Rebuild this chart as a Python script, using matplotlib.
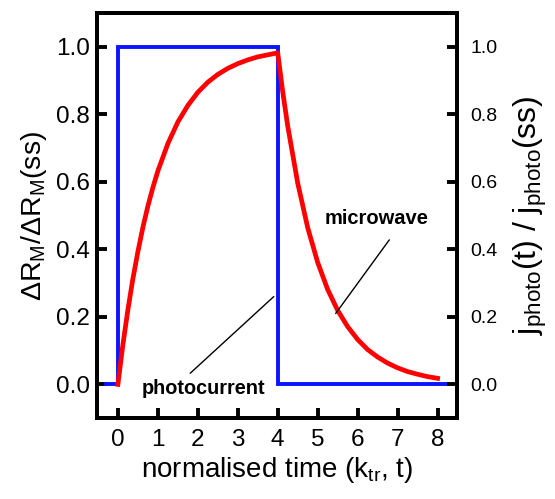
import matplotlib
matplotlib.use('Agg')
import matplotlib.pyplot as plt

# red curve: microwave signal
mw_t = [0, 0.125, 0.25, 0.375, 0.5, 0.625, 0.75, 0.875, 1.0, 1.25, 1.5,
        1.75, 2.0, 2.25, 2.5, 2.75, 3.0, 3.25, 3.5, 3.75, 4.0,
        4.125, 4.25, 4.5, 4.75, 5.0, 5.25, 5.5, 5.75, 6.0, 6.25, 6.5,
        6.75, 7.0, 7.25, 7.5, 7.75, 8.0]
mw_val = [0.0, 0.118, 0.221, 0.313, 0.393, 0.465, 0.528, 0.583, 0.632,
          0.713, 0.777, 0.826, 0.865, 0.895, 0.918, 0.936, 0.950, 0.961,
          0.970, 0.976, 0.982,
          0.866, 0.765, 0.596, 0.464, 0.361, 0.281, 0.219, 0.171, 0.133,
          0.103, 0.081, 0.063, 0.049, 0.038, 0.030, 0.023, 0.018]

# blue square pulse: photocurrent
pc_t = [-0.3, 0.0, 0.0, 4.0, 4.0, 8.22]
pc_val = [0.0, 0.0, 1.0, 1.0, 0.0, 0.0]

x_ticks = [0, 1, 2, 3, 4, 5, 6, 7, 8]
y_ticks = [0.0, 0.2, 0.4, 0.6, 0.8, 1.0]
y_ticklabels = ['0.0', '0.2', '0.4', '0.6', '0.8', '1.0']

plt.rcParams['font.family'] = ['Liberation Sans', 'DejaVu Sans']
plt.rcParams['mathtext.fontset'] = 'custom'
plt.rcParams['mathtext.rm'] = 'Liberation Sans'
plt.rcParams['mathtext.it'] = 'Liberation Sans:italic'
plt.rcParams['mathtext.bf'] = 'Liberation Sans:bold'

fig = plt.figure(figsize=(5.55, 4.99), dpi=100)
ax = fig.add_axes([0.175, 0.162, 0.648, 0.812])

ax.plot(pc_t, pc_val, color='#0a14ff', lw=2.8, solid_joinstyle='miter', zorder=2)
ax.plot(mw_t, mw_val, color='#ff0000', lw=3.4, zorder=3)

ax.set_xlim(-0.52, 8.48)
ax.set_ylim(-0.1, 1.1)
ax.set_xticks(x_ticks)
ax.set_yticks(y_ticks)
ax.set_yticklabels(y_ticklabels)
for s in ax.spines.values():
    s.set_linewidth(2.8)
ax.tick_params(direction='in', length=7, width=2.8, labelsize=17.5, pad=5)
ax.tick_params(axis='x', pad=8)

ax2 = ax.twinx()
ax2.set_ylim(-0.1, 1.1)
ax2.set_yticks(y_ticks)
ax2.set_yticklabels(y_ticklabels)
ax2.tick_params(direction='in', length=7, width=2.8, labelsize=14, pad=10)
for s in ax2.spines.values():
    s.set_linewidth(2.8)

ax.set_xlabel(r'normalised time (k$_{\mathrm{tr}}$, t)', fontsize=20, labelpad=3)
ax.set_ylabel(r'$\Delta$R$_{\mathrm{M}}$/$\Delta$R$_{\mathrm{M}}$(ss)', fontsize=20.5,
              labelpad=5)
ax2.set_ylabel(r'j$_{\mathrm{photo}}$(t) / j$_{\mathrm{photo}}$(ss)', fontsize=23,
               rotation=90, labelpad=10)

ax.annotate('microwave', xy=(5.45, 0.21), xytext=(6.48, 0.49),
            fontsize=14.5, fontweight='bold', ha='center', va='center',
            arrowprops=dict(arrowstyle='-', color='black', lw=1,
                            shrinkA=0, shrinkB=0,
                            relpos=(0.62, -0.6)))
ax.annotate('photocurrent', xy=(3.9, 0.26), xytext=(2.15, -0.012),
            fontsize=14.3, fontweight='bold', ha='center', va='center',
            arrowprops=dict(arrowstyle='-', color='black', lw=1,
                            shrinkA=0, shrinkB=0,
                            relpos=(0.39, 1.3)))

fig.savefig('out.png', dpi=100)
